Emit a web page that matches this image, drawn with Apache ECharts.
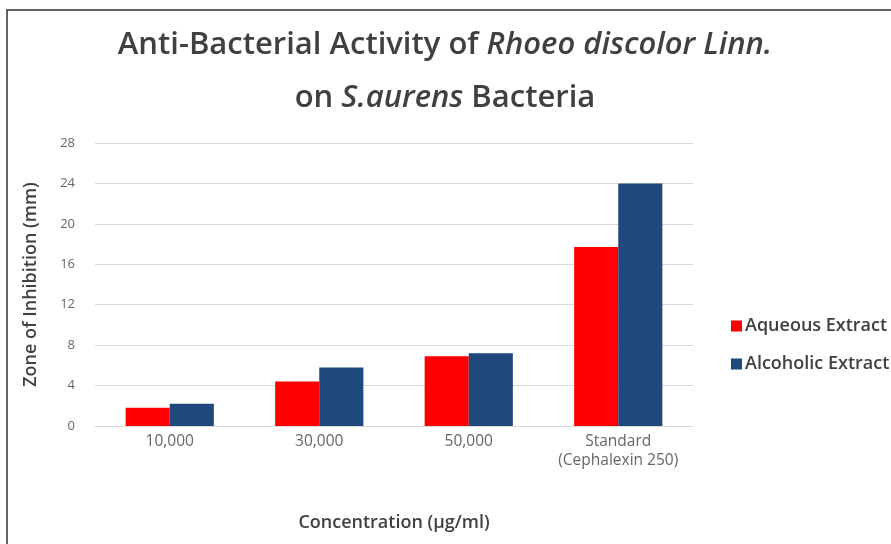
<!DOCTYPE html>
<html><head><meta charset="utf-8">
<script src="https://cdn.jsdelivr.net/npm/echarts@6/dist/echarts.min.js"></script>
<style>html,body{margin:0;padding:0;background:#fff}#c{width:891px;height:544px}</style>
</head><body><div id="c"></div>
<script>
const categories = ['10,000', '30,000', '50,000', 'Standard\n(Cephalexin 250)'];
const aqueous = [1.8, 4.4, 6.9, 17.7];
const alcoholic = [2.2, 5.8, 7.2, 24.0];
const yTicks = [0, 4, 8, 12, 16, 20, 24, 28];
const titleLine1 = 'Anti-Bacterial Activity of {i|Rhoeo discolor Linn.}';
const titleLine2 = 'on {i|S.aurens} Bacteria';

const chart = echarts.init(document.getElementById('c'), null, {renderer: 'canvas'});
const F = '"Open Sans", sans-serif';
const titleStyle = (txt, y) => ({
  type: 'text', silent: true, x: 445, y: y,
  style: {
    text: txt, fontFamily: F, fontSize: 31, fontWeight: 600, fill: '#404040',
    align: 'center', verticalAlign: 'middle',
    rich: {i: {fontFamily: F, fontSize: 31, fontWeight: 600, fontStyle: 'italic', fill: '#404040'}}
  }
});
chart.setOption({
  animation: false,
  backgroundColor: '#fff',
  graphic: [
    {type: 'polyline', silent: true,
     shape: {points: [[7, 560], [7, 10], [900, 10]]},
     style: {stroke: '#333', lineWidth: 1.5, fill: null}},
    titleStyle(titleLine1, 45),
    titleStyle(titleLine2, 98)
  ],
  legend: {
    orient: 'vertical', left: 726, top: 312, itemGap: 20,
    itemWidth: 11, itemHeight: 11, icon: 'rect',
    textStyle: {fontFamily: F, fontSize: 18, fontWeight: 600, color: '#404040', padding: [0, 0, 0, -2]},
    data: ['Aqueous Extract', 'Alcoholic Extract']
  },
  grid: {left: 95, right: 198, top: 143, bottom: 118, containLabel: false},
  xAxis: {
    type: 'category', data: categories,
    axisLine: {lineStyle: {color: '#d9d9d9'}},
    axisTick: {show: false},
    axisLabel: {fontFamily: F, fontSize: 15.5, color: '#666', margin: 6, lineHeight: 19, interval: 0},
    name: 'Concentration (µg/ml)', nameLocation: 'middle', nameGap: 88,
    nameTextStyle: {fontFamily: F, fontSize: 18, fontWeight: 600, color: '#404040'}
  },
  yAxis: {
    type: 'value', min: 0, max: 28, interval: 4,
    axisLine: {show: false}, axisTick: {show: false},
    splitLine: {lineStyle: {color: '#d9d9d9', width: 1}},
    axisLabel: {fontFamily: F, fontSize: 13, color: '#666', margin: 20,
      formatter: v => yTicks.includes(v) ? String(v) : ''},
    name: 'Zone of Inhibition (mm)', nameLocation: 'middle', nameGap: 55, nameRotate: 90,
    nameTextStyle: {fontFamily: F, fontSize: 18, fontWeight: 600, color: '#404040'}
  },
  series: [
    {name: 'Aqueous Extract', type: 'bar', data: aqueous, barGap: '0%', barCategoryGap: '41%', itemStyle: {color: '#ff0000'}},
    {name: 'Alcoholic Extract', type: 'bar', data: alcoholic, itemStyle: {color: '#1f497d'}}
  ]
});
</script></body></html>
